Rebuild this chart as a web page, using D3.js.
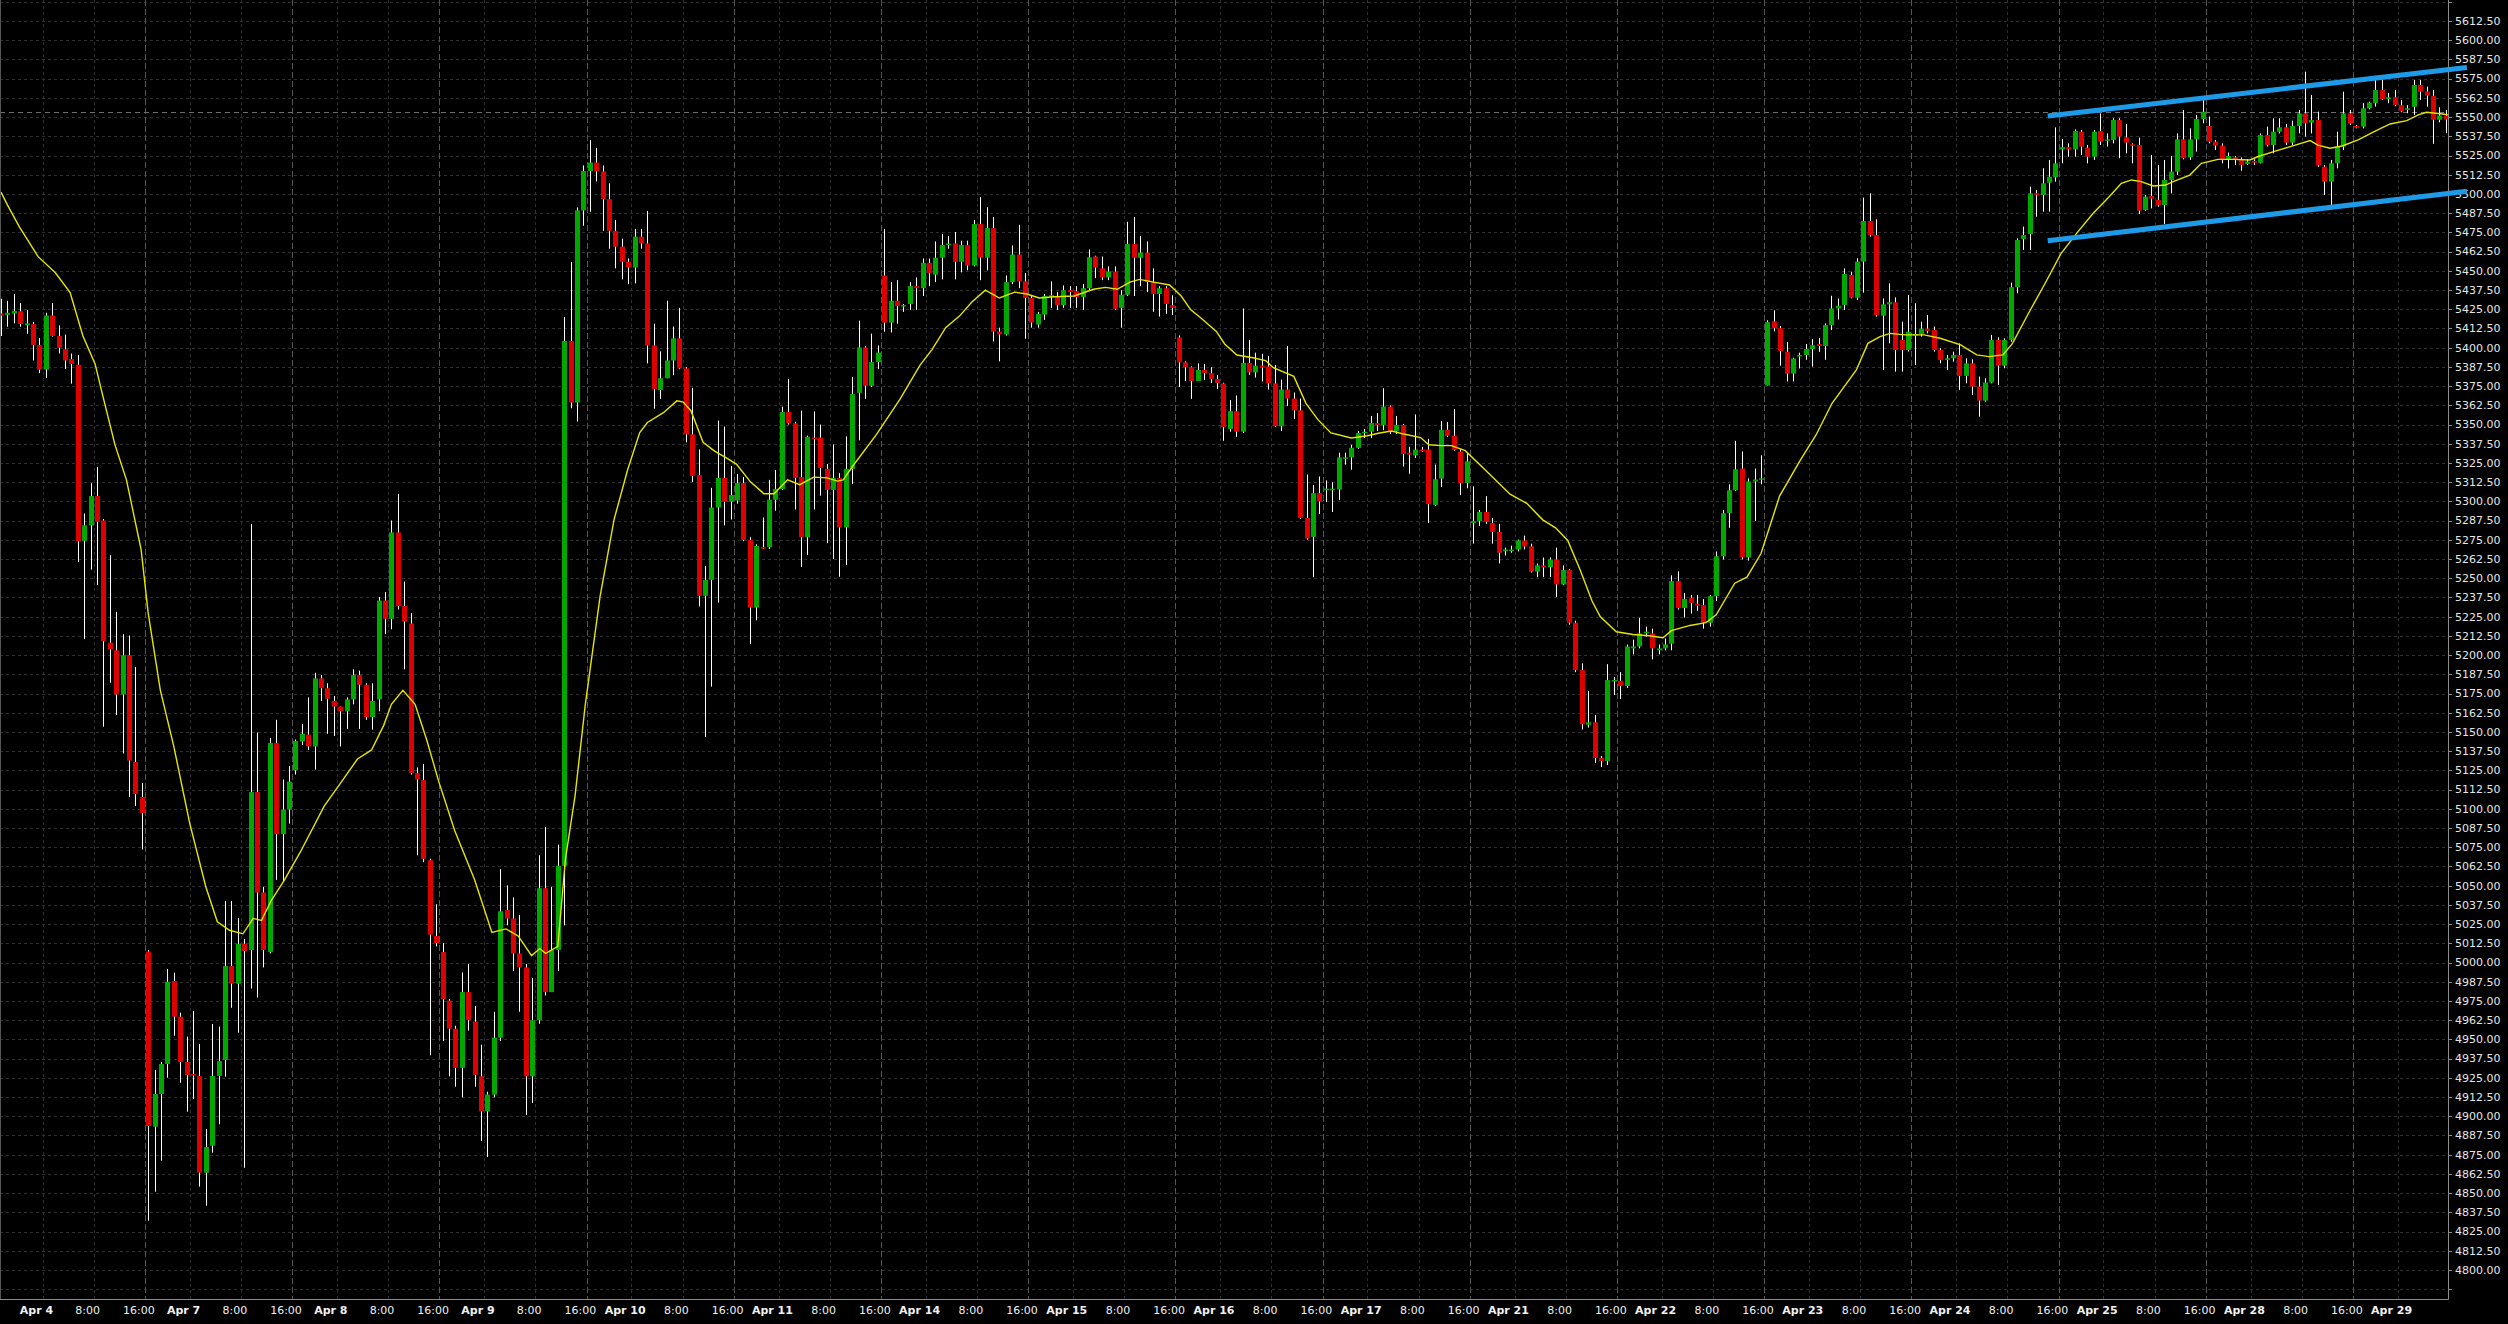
<!DOCTYPE html>
<html><head><meta charset="utf-8">
<script src="https://cdn.jsdelivr.net/npm/d3@7"></script>
<style>html,body{margin:0;padding:0;background:#000;overflow:hidden}</style>
</head><body><svg id="c" width="2508" height="1324"></svg>
<script>
const open = [
5422.2,5421.3,5422.2,5423.6,5414.5,5415.4,5401.7,5385.7,5420.9,5407.6,
5399.0,5392.6,5388.9,5274.3,5284.4,5303.5,5287.6,5208.1,5203.1,5174.4,
5199.9,5130.5,5107.7,5007.1,4893.2,4914.5,4934.0,4988.0,4964.8,4935.3,
4927.5,4926.2,4863.3,4880.8,4926.2,4936.6,4997.7,4986.2,5012.1,5008.2,
5110.9,5045.6,5006.8,5142.9,5083.5,5099.5,5125.0,5143.8,5148.3,5140.6,
5184.8,5178.5,5170.2,5166.6,5163.4,5171.2,5187.1,5180.7,5159.7,5171.2,
5235.5,5223.6,5279.8,5231.9,5220.5,5123.2,5118.7,5066.6,5017.3,5006.8,
4975.3,4957.0,4931.5,4980.8,4961.6,4926.0,4903.2,4914.1,4951.1,5034.2,
5028.7,5005.9,4996.8,4926.0,4962.5,5048.4,4980.8,5008.2,5063.0,5404.4,
5364.3,5489.3,5514.9,5520.4,5514.6,5496.6,5476.0,5465.7,5455.9,5452.1,
5472.2,5467.8,5401.4,5372.4,5380.1,5391.7,5406.1,5386.5,5343.6,5317.1,
5238.6,5248.9,5296.0,5315.3,5299.8,5300.6,5311.9,5274.9,5230.9,5270.2,
5270.2,5301.1,5308.1,5358.2,5350.8,5315.8,5276.7,5341.5,5341.5,5321.2,
5307.5,5315.3,5283.1,5321.2,5370.6,5400.1,5375.2,5390.6,5446.9,5416.3,
5430.5,5427.1,5428.4,5440.0,5438.7,5455.2,5447.5,5458.5,5466.8,5467.8,
5455.9,5466.8,5453.4,5480.4,5458.5,5477.8,5410.4,5408.6,5442.6,5460.6,
5443.1,5432.3,5415.1,5421.5,5433.1,5433.6,5427.7,5437.4,5436.7,5432.8,
5438.7,5459.3,5451.6,5445.7,5449.5,5425.9,5434.4,5467.5,5458.5,5461.9,
5442.6,5434.9,5438.7,5427.7,5406.6,5390.4,5387.3,5378.3,5385.5,5383.4,
5379.6,5376.7,5347.1,5358.7,5345.3,5390.1,5383.9,5388.3,5387.7,5376.7,
5348.9,5372.8,5366.9,5359.2,5289.2,5276.9,5305.4,5307.2,5307.2,5307.7,
5327.8,5328.6,5334.8,5344.5,5345.3,5351.0,5349.7,5361.7,5345.8,5349.7,
5331.7,5329.9,5333.7,5333.7,5297.7,5314.9,5346.6,5342.7,5332.4,5311.9,
5285.9,5287.2,5293.1,5285.9,5280.2,5267.6,5268.1,5268.7,5274.6,5270.7,
5254.3,5258.4,5257.1,5262.2,5246.0,5255.3,5221.1,5190.2,5154.7,5156.3,
5133.1,5131.1,5183.3,5183.3,5179.9,5204.4,5205.6,5214.1,5214.1,5203.1,
5204.4,5207.4,5248.1,5230.6,5237.3,5233.4,5232.6,5221.1,5238.3,5264.3,
5292.3,5307.2,5321.4,5263.5,5312.9,5314.2,5375.4,5417.1,5412.7,5397.3,
5383.1,5394.2,5395.2,5399.1,5402.4,5401.1,5414.7,5425.5,5427.8,5447.3,
5432.5,5456.0,5482.4,5473.3,5420.8,5428.2,5429.5,5405.0,5398.5,5407.8,
5408.9,5412.4,5411.5,5398.5,5392.0,5393.1,5395.2,5381.6,5389.8,5374.7,
5365.6,5377.3,5405.0,5388.3,5405.0,5439.3,5470.7,5473.9,5500.4,5499.3,
5507.3,5510.8,5529.0,5530.5,5529.0,5540.5,5530.1,5524.2,5540.9,5535.1,
5535.1,5548.1,5536.8,5532.3,5531.8,5489.6,5498.7,5496.1,5492.8,5509.1,
5514.5,5535.5,5523.8,5535.5,5548.8,5544.2,5534.0,5531.4,5522.7,5523.8,
5522.1,5519.5,5521.4,5520.3,5538.3,5531.8,5540.5,5543.3,5533.4,5544.2,
5552.4,5546.4,5548.1,5517.7,5508.0,5519.9,5530.8,5552.4,5544.2,5543.8,
5555.7,5559.0,5567.6,5561.6,5562.9,5557.8,5554.6,5556.7,5570.9,5566.6,
5563.9,5548.2,5551.0];
const high = [
5431.8,5430.5,5435.0,5429.0,5424.5,5416.8,5406.3,5422.7,5429.0,5414.5,
5408.5,5396.2,5395.3,5292.1,5311.8,5322.3,5288.5,5265.0,5228.2,5213.6,
5212.7,5192.2,5116.8,5008.2,4930.1,4935.3,4995.8,4993.4,4967.4,4951.8,
4968.5,4947.0,4891.7,4960.0,4958.3,5040.1,5040.1,5028.9,5015.3,5285.3,
5149.7,5049.3,5146.1,5157.9,5119.1,5127.8,5145.1,5155.2,5172.5,5188.5,
5187.1,5181.7,5173.4,5166.6,5172.5,5190.8,5189.9,5181.7,5181.7,5237.8,
5241.0,5287.6,5304.9,5247.9,5227.3,5126.9,5129.2,5067.5,5037.9,5012.7,
4976.2,4958.9,4993.6,4999.1,4971.7,4946.6,4916.0,4968.0,5060.7,5050.2,
5042.4,5031.0,4999.1,4989.9,5069.8,5088.1,5049.3,5076.7,5419.9,5455.6,
5491.2,5518.6,5535.0,5530.0,5518.5,5506.9,5483.0,5470.9,5458.0,5477.3,
5477.3,5488.9,5415.6,5397.6,5430.5,5413.8,5425.9,5387.3,5373.9,5333.8,
5257.9,5308.8,5352.6,5348.7,5323.0,5317.8,5315.8,5276.7,5272.1,5289.5,
5314.0,5320.4,5361.6,5379.6,5351.8,5359.0,5342.8,5358.5,5350.0,5324.3,
5337.1,5318.3,5342.3,5380.9,5417.6,5400.9,5409.1,5401.4,5477.3,5442.6,
5443.9,5428.4,5442.6,5445.7,5458.0,5458.0,5469.1,5474.0,5472.7,5475.2,
5469.6,5469.6,5483.0,5497.9,5491.4,5485.0,5413.0,5446.9,5466.5,5479.9,
5448.5,5433.6,5423.3,5434.9,5443.1,5436.1,5440.5,5440.0,5440.0,5441.3,
5463.9,5459.8,5459.3,5452.9,5452.9,5437.4,5481.9,5485.0,5472.7,5469.1,
5451.6,5440.0,5440.0,5434.1,5407.9,5391.1,5387.8,5389.8,5389.3,5387.3,
5382.1,5377.2,5365.9,5368.9,5425.5,5405.0,5396.7,5396.0,5394.7,5388.8,
5379.2,5401.1,5370.8,5366.9,5317.5,5310.6,5316.2,5313.7,5312.4,5331.7,
5331.7,5336.8,5345.8,5347.1,5355.6,5357.4,5373.6,5362.5,5355.6,5350.4,
5335.5,5356.6,5335.5,5340.7,5324.0,5352.2,5351.5,5360.0,5334.2,5331.7,
5309.8,5294.4,5303.4,5289.2,5285.4,5269.9,5271.2,5275.1,5277.7,5272.5,
5259.6,5263.5,5263.5,5269.9,5258.4,5255.8,5222.4,5194.6,5176.6,5161.1,
5134.4,5194.1,5185.8,5188.9,5206.9,5210.0,5224.2,5218.5,5217.2,5206.9,
5210.8,5251.9,5254.5,5240.4,5239.1,5239.1,5236.5,5239.1,5267.4,5294.4,
5311.1,5339.4,5332.4,5315.0,5321.4,5329.9,5417.8,5424.3,5414.0,5403.7,
5393.4,5396.7,5402.4,5405.5,5406.3,5415.8,5433.8,5432.0,5451.6,5449.4,
5458.1,5497.6,5500.4,5483.5,5432.1,5441.9,5432.7,5416.9,5434.3,5428.9,
5416.9,5421.3,5413.7,5399.6,5395.2,5397.4,5402.8,5393.1,5392.4,5381.2,
5380.1,5408.3,5406.7,5406.1,5442.3,5471.1,5478.7,5504.7,5502.6,5516.7,
5522.1,5543.3,5535.7,5532.9,5542.0,5541.6,5531.8,5541.6,5552.4,5539.4,
5549.2,5549.2,5545.5,5532.9,5536.6,5499.3,5525.3,5518.8,5522.1,5524.7,
5539.4,5554.6,5542.7,5551.4,5561.1,5550.3,5535.1,5532.9,5526.9,5524.7,
5523.8,5522.7,5522.5,5539.4,5543.8,5549.2,5549.2,5545.5,5547.7,5554.6,
5579.5,5564.4,5553.5,5518.8,5522.1,5540.5,5566.5,5554.6,5544.8,5559.0,
5560.0,5574.1,5574.1,5565.6,5567.6,5561.0,5557.8,5574.1,5574.1,5569.8,
5567.6,5556.4,5554.6];
const low = [
5407.6,5413.6,5415.8,5413.6,5409.0,5391.7,5383.4,5380.2,5407.2,5396.2,
5386.2,5376.6,5260.6,5210.4,5255.6,5245.6,5153.4,5182.0,5161.1,5136.0,
5107.7,5101.8,5073.5,4832.1,4850.9,4871.1,4925.1,4952.4,4921.8,4903.0,
4911.2,4854.2,4841.8,4876.3,4894.8,4925.7,4970.6,4954.4,4866.5,4983.1,
4977.2,4996.8,5005.9,5053.8,5052.9,5090.4,5122.3,5141.5,5138.3,5125.5,
5170.2,5148.8,5147.4,5140.6,5152.0,5168.0,5152.0,5157.9,5151.5,5163.4,
5213.6,5216.8,5229.6,5190.8,5122.3,5069.8,5065.3,4939.7,5010.5,4948.9,
4926.0,4919.2,4912.3,4955.7,4919.2,4884.0,4873.5,4912.3,4948.9,5024.2,
4994.5,4968.0,4900.9,4908.7,4960.2,4978.5,4980.8,4994.5,5024.2,5360.6,
5351.9,5479.3,5488.4,5508.1,5476.0,5464.4,5451.6,5444.4,5441.3,5441.8,
5464.4,5389.8,5360.3,5366.7,5380.1,5382.1,5386.0,5338.4,5312.7,5231.7,
5146.8,5179.5,5234.2,5284.4,5288.2,5298.5,5274.1,5207.2,5222.7,5269.0,
5269.0,5293.9,5307.5,5350.0,5294.7,5257.4,5265.1,5294.7,5303.7,5272.8,
5262.5,5251.0,5258.7,5311.4,5339.7,5366.7,5374.4,5386.0,5410.4,5409.9,
5415.6,5423.3,5424.6,5424.6,5433.6,5440.0,5442.6,5444.4,5464.4,5444.4,
5449.0,5450.3,5452.9,5443.9,5450.3,5404.0,5391.1,5407.9,5441.3,5438.7,
5405.8,5413.0,5413.0,5418.1,5425.9,5424.6,5425.9,5425.9,5425.9,5424.6,
5437.4,5445.2,5443.9,5443.9,5424.6,5413.0,5433.6,5433.6,5440.0,5436.1,
5423.3,5420.2,5422.0,5421.2,5374.4,5378.3,5366.7,5378.3,5379.0,5377.0,
5373.1,5339.4,5345.3,5342.0,5344.5,5382.3,5380.5,5378.0,5372.8,5348.4,
5345.8,5362.0,5353.5,5288.7,5275.1,5250.7,5291.8,5299.5,5293.1,5300.8,
5323.9,5320.6,5334.2,5341.2,5341.2,5345.8,5346.3,5343.8,5343.8,5322.7,
5318.0,5328.3,5332.4,5285.9,5296.9,5309.3,5341.9,5333.0,5304.1,5308.5,
5272.5,5284.1,5285.4,5272.5,5259.6,5264.8,5266.6,5267.4,5268.7,5253.7,
5250.7,5250.7,5250.7,5237.8,5245.5,5219.8,5188.9,5151.6,5152.9,5129.8,
5127.2,5128.5,5174.0,5171.4,5178.6,5200.5,5204.4,5212.1,5197.2,5200.5,
5203.1,5203.1,5229.6,5224.4,5227.0,5228.8,5217.2,5218.5,5235.2,5262.2,
5282.8,5306.7,5262.2,5261.5,5287.2,5311.1,5375.4,5410.6,5388.3,5378.0,
5378.0,5386.5,5392.1,5387.7,5397.3,5392.1,5411.4,5418.3,5424.5,5432.1,
5431.0,5435.8,5472.2,5420.2,5385.5,5402.8,5384.4,5384.4,5397.4,5388.7,
5407.2,5409.3,5397.4,5389.8,5385.5,5390.9,5372.5,5376.8,5369.2,5355.1,
5364.9,5376.8,5375.7,5386.6,5403.9,5435.4,5463.6,5463.6,5485.2,5488.5,
5488.5,5508.0,5519.9,5524.2,5524.2,5525.3,5519.9,5522.1,5531.8,5530.8,
5532.9,5523.2,5526.4,5519.9,5486.9,5489.1,5490.6,5491.7,5480.5,5500.4,
5512.3,5522.5,5522.1,5527.5,5545.9,5532.9,5528.6,5519.9,5516.6,5518.8,
5515.1,5518.8,5518.8,5519.9,5530.8,5526.4,5539.4,5531.8,5531.8,5539.4,
5537.3,5539.4,5517.7,5499.3,5492.8,5516.7,5528.6,5544.8,5542.7,5542.7,
5555.0,5556.8,5561.1,5559.0,5557.0,5553.2,5552.5,5551.4,5561.2,5556.7,
5532.6,5546.6,5539.5];
const close = [
5420.9,5422.7,5424.0,5415.4,5415.8,5401.7,5385.7,5420.9,5407.6,5399.9,
5391.7,5389.4,5273.9,5284.4,5303.5,5286.7,5209.0,5203.6,5174.4,5199.9,
5131.4,5109.5,5097.2,4893.7,4914.5,4934.0,4987.5,4964.8,4935.3,4926.8,
4926.4,4863.3,4880.0,4926.2,4935.9,4997.7,4986.2,5012.1,5007.5,5110.9,
5045.6,5008.2,5142.9,5083.5,5099.5,5117.7,5144.2,5148.8,5140.6,5184.8,
5178.5,5171.6,5166.6,5163.4,5171.2,5187.1,5180.7,5159.7,5170.2,5235.5,
5223.6,5279.8,5231.9,5221.8,5123.2,5119.1,5067.5,5018.2,5012.7,4976.2,
4957.0,4931.5,4980.8,4962.5,4926.9,4903.2,4914.1,4951.1,5033.3,5028.7,
5005.9,4996.8,4926.0,4962.5,5048.4,4980.8,5008.2,5063.0,5404.4,5364.3,
5489.3,5514.9,5520.4,5514.6,5496.6,5476.0,5465.7,5455.9,5452.1,5472.2,
5467.8,5401.4,5373.1,5380.1,5391.7,5406.1,5386.5,5343.6,5316.5,5238.6,
5248.9,5296.0,5315.3,5299.8,5304.2,5311.9,5274.9,5230.9,5271.0,5269.5,
5301.1,5308.1,5358.2,5350.8,5315.3,5276.7,5342.0,5340.5,5321.7,5307.5,
5315.3,5283.1,5321.2,5369.8,5400.1,5375.2,5390.6,5396.8,5416.3,5430.5,
5427.1,5427.7,5440.0,5438.7,5455.2,5448.5,5458.5,5466.8,5467.8,5455.9,
5466.8,5453.4,5480.4,5458.5,5477.8,5410.4,5408.6,5442.6,5460.6,5443.1,
5432.3,5416.3,5422.0,5433.6,5434.1,5427.7,5437.4,5436.1,5432.8,5438.7,
5458.8,5452.1,5445.7,5449.5,5425.3,5434.4,5467.5,5458.5,5461.9,5442.6,
5434.9,5438.7,5428.4,5425.9,5390.4,5387.3,5378.3,5385.5,5383.4,5379.6,
5377.0,5348.4,5358.7,5345.3,5390.1,5383.9,5388.3,5387.0,5376.7,5348.9,
5372.8,5366.9,5359.2,5289.2,5275.9,5305.4,5300.0,5308.3,5308.3,5328.6,
5328.6,5334.8,5344.5,5345.3,5351.0,5349.7,5361.7,5345.8,5349.7,5330.9,
5330.4,5333.7,5333.2,5298.2,5314.4,5346.6,5342.7,5333.5,5311.9,5326.0,
5287.2,5293.1,5286.7,5280.2,5266.6,5268.7,5268.7,5274.6,5270.7,5254.3,
5258.4,5257.1,5262.2,5246.0,5255.3,5221.1,5190.2,5155.0,5156.3,5133.1,
5131.1,5183.8,5183.8,5179.9,5205.6,5205.6,5214.1,5215.2,5204.4,5204.4,
5206.9,5248.1,5230.6,5236.5,5233.9,5232.1,5221.1,5238.3,5264.3,5292.3,
5307.2,5320.9,5263.5,5312.9,5314.2,5315.0,5416.6,5412.7,5397.8,5383.1,
5392.9,5395.2,5399.1,5401.6,5401.1,5414.7,5425.5,5427.3,5447.9,5432.5,
5456.0,5482.4,5473.3,5421.3,5428.2,5429.5,5398.5,5398.5,5410.4,5408.9,
5412.4,5410.9,5398.5,5392.0,5393.1,5395.2,5381.6,5389.8,5374.7,5365.6,
5377.3,5405.0,5388.3,5405.0,5439.3,5470.0,5473.3,5500.4,5499.3,5506.9,
5511.2,5519.9,5530.5,5529.0,5540.9,5530.8,5524.2,5540.5,5534.0,5535.5,
5548.1,5537.3,5533.4,5531.4,5489.1,5498.2,5496.9,5492.8,5509.1,5514.5,
5535.5,5523.2,5535.5,5548.8,5553.5,5534.0,5531.4,5522.7,5524.7,5522.5,
5518.8,5521.0,5520.3,5538.3,5531.8,5540.5,5543.3,5533.4,5544.2,5552.4,
5545.9,5548.1,5518.8,5508.0,5519.9,5530.8,5552.4,5545.9,5543.1,5555.7,
5559.4,5567.6,5561.6,5562.9,5557.8,5553.8,5555.7,5570.9,5566.5,5564.0,
5548.2,5551.0,5548.4];

// moving average at bar positions
const maIdx = [0,1.1,2.9,5.8,8.5,10.8,12.8,14.7,15.9,17.8,19.6,21.9,23.0,24.9,27.0,29.5,32.0,33.8,35.7,37.8,39.4,40.7,42.2,44.3,46.8,50.5,53.6,55.7,57.9,59.8,61.0,62.8,64.7,66.5,68.4,70.9,74.0,76.7,78.9,80.8,82.9,84.2,85.1,87.0,88.2,89.7,91.3,93.6,95.8,97.9,99.8,101.0,103.5,105.6,106.6,107.8,109.7,111.5,113.4,114.9,117.1,119.2,120.8,122.9,124.8,127.0,129.1,130.7,131.6,133.1,136.8,140.5,143.6,145.5,147.6,149.8,151.7,153.8,156.0,158.4,160.3,162.2,164.6,167.7,170.7,172.6,174.4,176.4,177.9,180.1,182.6,184.4,185.9,187.3,189.9,191.2,193.1,195.6,197.6,198.8,202.0,203.9,205.8,207.8,211.0,213.5,215.4,217.3,219.2,221.8,223.1,225.0,226.6,228.8,232.0,235.8,238.4,240.9,242.9,244.8,246.7,248.6,249.9,252.4,255.0,257.5,259.7,261.0,263.9,266.4,268.0,270.9,272.8,275.0,277.9,281.1,283.6,286.1,288.0,289.9,291.7,293.6,295.2,297.4,300.5,303.0,306.2,308.7,310.6,312.8,314.3,316.8,319.4,321.9,324.4,326.9,329.4,331.3,332.9,334.4,336.3,338.2,339.4,342.0,343.8,346.4,348.9,351.4,352.6,355.1,357.7,360.8,362.0,363.9,365.8,368.3,370.8,373.3,375.9,377.7,379.0,381.5,382.4];
const maVal = [5501.2,5492.1,5478.4,5459.2,5448.7,5435.9,5407.6,5389.4,5368.8,5336.9,5314.0,5268.4,5227.3,5177.1,5140.6,5090.4,5049.3,5026.5,5021.0,5018.7,5028.7,5027.4,5040.1,5053.8,5072.1,5101.8,5120.0,5132.4,5138.3,5154.3,5168.0,5177.1,5168.0,5145.1,5117.7,5085.8,5053.8,5019.6,5021.9,5017.3,5004.5,5009.1,5005.9,5010.5,5067.5,5108.6,5168.0,5238.1,5288.3,5320.4,5344.8,5351.3,5357.7,5365.4,5364.6,5359.0,5338.4,5332.7,5328.1,5324.3,5312.7,5305.0,5305.0,5314.0,5310.9,5315.8,5315.3,5313.2,5314.0,5323.0,5343.6,5366.7,5388.6,5398.9,5413.0,5420.7,5429.7,5437.4,5432.3,5436.1,5434.9,5432.3,5433.1,5433.6,5438.0,5439.2,5438.0,5442.6,5444.4,5442.6,5440.8,5433.6,5424.6,5419.9,5410.6,5402.4,5395.2,5393.4,5391.6,5387.0,5381.3,5363.8,5353.0,5344.5,5341.2,5342.7,5344.5,5345.8,5343.8,5341.5,5336.8,5336.3,5336.3,5333.0,5320.1,5304.7,5298.7,5288.0,5282.8,5274.6,5255.8,5235.2,5224.9,5215.2,5213.4,5212.6,5211.3,5215.9,5219.3,5221.1,5226.2,5246.8,5250.7,5266.1,5303.4,5326.5,5343.2,5363.8,5374.6,5385.5,5402.8,5407.2,5409.3,5408.3,5408.3,5406.1,5401.8,5395.3,5394.2,5395.3,5402.8,5422.4,5441.9,5461.4,5474.8,5487.4,5498.2,5506.9,5509.1,5508.0,5505.2,5505.8,5508.0,5512.3,5519.9,5522.5,5522.5,5522.1,5524.2,5527.5,5530.8,5534.7,5531.8,5529.7,5531.2,5535.1,5540.5,5545.5,5547.7,5551.4,5553.1,5552.0,5551.4];

const dayLabels = ["Apr 4","Apr 7","Apr 8","Apr 9","Apr 10","Apr 11","Apr 14","Apr 15","Apr 16","Apr 17","Apr 21","Apr 22","Apr 23","Apr 24","Apr 25","Apr 28","Apr 29"];
const timeLabels = ["8:00","16:00"];
const trendUpper = [[319.8,5550.7],[385.3,5582.3]];
const trendLower = [[319.8,5469.6],[385.3,5501.7]];
const priceLevel = 5553.5;
const yTicks = d3.range(4800, 5612.5 + 1e-6, 12.5);
const gridVals = d3.range(4787.5, 5625 + 1e-6, 12.5);

const W = 2508, H = 1324, plotR = 2448, plotB = 1299;
const svg = d3.select('#c');
svg.append('rect').attr('width', W).attr('height', H).attr('fill', '#000');

const x = d3.scaleLinear().domain([0, 382]).range([1, 2445.8]);
const y = d3.scaleLinear().domain([4800, 5612.5]).range([1270, 21]);

svg.append('defs').append('clipPath').attr('id', 'plot')
  .append('rect').attr('x', 0).attr('y', 0).attr('width', plotR).attr('height', plotB);
const g = svg.append('g').attr('clip-path', 'url(#plot)');

// horizontal grid
g.append('g').selectAll('line').data(gridVals).join('line')
  .attr('x1', 0).attr('x2', plotR)
  .attr('y1', d => Math.round(y(d)) + 0.5).attr('y2', d => Math.round(y(d)) + 0.5)
  .attr('stroke', '#2f2f2f').attr('stroke-width', 1).attr('stroke-dasharray', '3,3');

// time ticks
const xTicks = [];
dayLabels.forEach((lab, k) => {
  const s = k * 23;
  [[6, lab, true], [14, timeLabels[0], false], [22, timeLabels[1], false]].forEach(([o, t, b]) => {
    if (s + o <= 381) xTicks.push({ i: s + o, t: t, bold: b, sess: o === 22 });
  });
});
g.append('g').selectAll('line').data(xTicks).join('line')
  .attr('x1', d => Math.round(x(d.i) + 3.2) + 0.5).attr('x2', d => Math.round(x(d.i) + 3.2) + 0.5)
  .attr('y1', 0).attr('y2', plotB)
  .attr('stroke', d => d.sess ? '#555' : '#2f2f2f')
  .attr('stroke-width', 1)
  .attr('stroke-dasharray', d => d.sess ? '6,3' : '3,3');

// price level line
g.append('line').attr('x1', 0).attr('x2', plotR)
  .attr('y1', Math.round(y(priceLevel)) + 0.5).attr('y2', Math.round(y(priceLevel)) + 0.5)
  .attr('stroke', '#6e6e6e').attr('stroke-dasharray', '5,4');

// candles
const idx = d3.range(open.length);
const cg = g.append('g');
cg.selectAll('line').data(idx).join('line')
  .attr('x1', i => Math.round(x(i)) + 0.5).attr('x2', i => Math.round(x(i)) + 0.5)
  .attr('y1', i => y(high[i])).attr('y2', i => y(low[i]))
  .attr('stroke', '#fff').attr('stroke-width', 1);
cg.selectAll('rect').data(idx).join('rect')
  .attr('x', i => Math.round(x(i)) - 2).attr('width', 5)
  .attr('y', i => y(Math.max(open[i], close[i])))
  .attr('height', i => Math.max(1.5, Math.abs(y(open[i]) - y(close[i]))))
  .attr('fill', i => close[i] >= open[i] ? '#00a800' : '#dc0000');

// moving average
g.append('path')
  .attr('d', d3.line().x(d => x(d[0])).y(d => y(d[1]))(maIdx.map((v, k) => [v, maVal[k]])))
  .attr('fill', 'none').attr('stroke', '#e6e600').attr('stroke-width', 1.4);

// borders
svg.append('line').attr('x1', plotR + 0.5).attr('x2', plotR + 0.5).attr('y1', 0).attr('y2', plotB + 0.5).attr('stroke', '#8c8c8c');
svg.append('line').attr('x1', 0).attr('x2', plotR + 0.5).attr('y1', plotB + 0.5).attr('y2', plotB + 0.5).attr('stroke', '#8c8c8c');
svg.append('line').attr('x1', 0.5).attr('x2', 0.5).attr('y1', 0).attr('y2', plotB).attr('stroke', '#555');

// y axis
const ya = svg.append('g');
ya.selectAll('line').data(gridVals).join('line')
  .attr('x1', plotR).attr('x2', plotR + 4)
  .attr('y1', d => Math.round(y(d)) + 0.5).attr('y2', d => Math.round(y(d)) + 0.5)
  .attr('stroke', '#8c8c8c');
ya.selectAll('text').data(yTicks).join('text')
  .attr('x', 2455).attr('y', d => y(d)).attr('dy', '0.35em')
  .attr('font-family', 'DejaVu Sans, Verdana, sans-serif').attr('font-size', 11)
  .attr('fill', '#e6e6e6').text(d3.format('.2f'));

// x axis labels
svg.append('g').selectAll('text').data(xTicks).join('text')
  .attr('x', d => x(d.i) - 3).attr('y', 1310).attr('dy', '0.35em')
  .attr('text-anchor', 'middle')
  .attr('font-family', 'DejaVu Sans, Verdana, sans-serif').attr('font-size', 11)
  .attr('font-weight', d => d.bold ? 'bold' : 'normal')
  .attr('fill', '#f0f0f0').text(d => d.t);

// trend lines
[trendUpper, trendLower].forEach(t => {
  svg.append('line')
    .attr('x1', x(t[0][0])).attr('y1', y(t[0][1]))
    .attr('x2', x(t[1][0])).attr('y2', y(t[1][1]))
    .attr('stroke', '#1e9be8').attr('stroke-width', 5);
});
</script></body></html>
